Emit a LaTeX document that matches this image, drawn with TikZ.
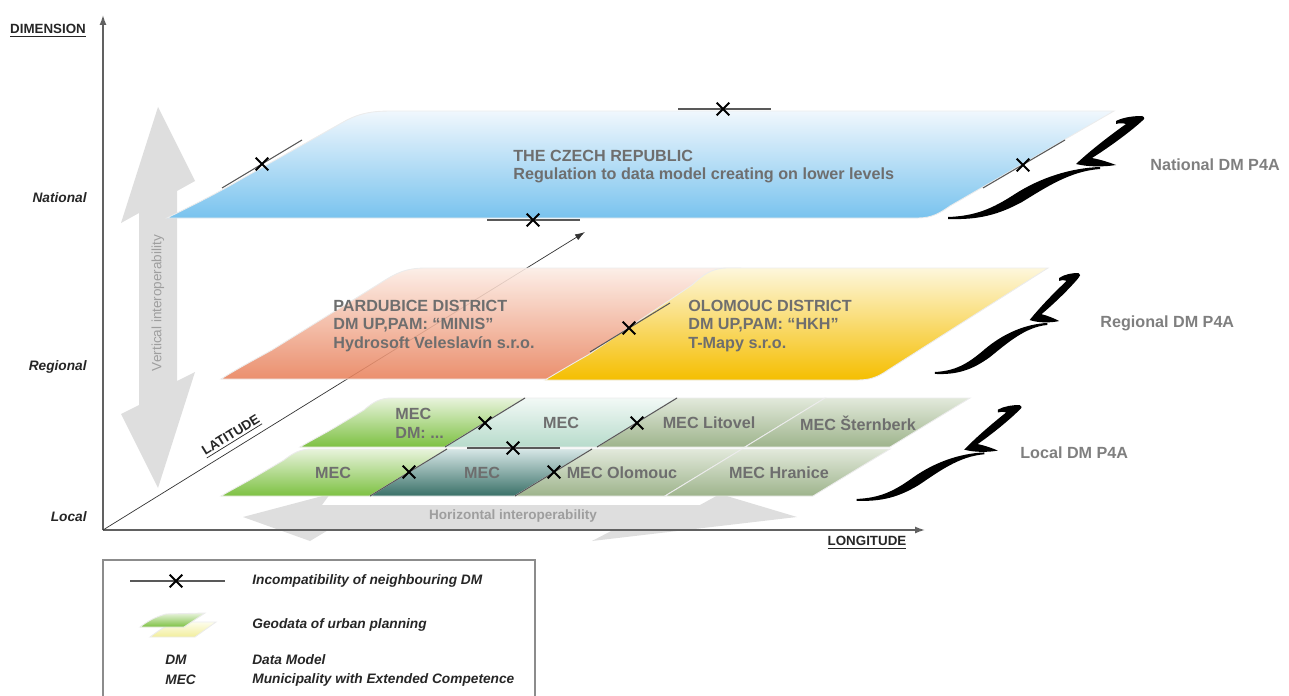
\documentclass[tikz,border=0pt]{standalone}
\usepackage{fontspec}
\setmainfont{Liberation Sans}
\usetikzlibrary{arrows.meta,shapes.misc}
\definecolor{txtgray}{HTML}{6E6E6E}
\definecolor{dmgray}{HTML}{7F7F7F}
\definecolor{arrowgray}{HTML}{DEDEDE}
\tikzset{
  axisline/.style={-{Latex[length=2mm,width=1.4mm]}, line width=0.8pt, draw=black!62},
  latline/.style={-{Latex[length=2mm,width=1.3mm]}, line width=0.4pt, draw=black!80},
  axislabel/.style={font=\fontsize{7.6}{9}\selectfont\bfseries, text=black!85, inner sep=1pt},
  levellabel/.style={font=\fontsize{7.8}{9}\selectfont\bfseries\itshape, text=black!85, anchor=east, inner sep=0pt},
  interarrow/.style={fill=arrowgray},
  intertext/.style={font=\fontsize{7.7}{9}\selectfont, text=black!38, inner sep=0pt},
  layerbase/.style={draw=white!85!gray, line width=0.5pt},
  natlayer/.style={layerbase, top color={rgb,255:red,240;green,247;blue,253}, bottom color={rgb,255:red,121;green,195;blue,238}},
  pardlayer/.style={layerbase, fill opacity=0.88, top color={rgb,255:red,252;green,236;blue,228}, bottom color={rgb,255:red,232;green,128;blue,90}},
  olomlayer/.style={layerbase, top color={rgb,255:red,253;green,247;blue,220}, bottom color={rgb,255:red,245;green,190;blue,0}},
  greenlayer/.style={layerbase, top color={rgb,255:red,232;green,243;blue,220}, bottom color={rgb,255:red,125;green,193;blue,66}},
  teallayer/.style={layerbase, top color={rgb,255:red,242;green,249;blue,246}, bottom color={rgb,255:red,183;green,219;blue,203}},
  darkteal/.style={layerbase, top color={rgb,255:red,214;green,230;blue,230}, bottom color={rgb,255:red,58;green,113;blue,104}},
  olivelayer/.style={layerbase, top color={rgb,255:red,226;green,233;blue,219}, bottom color={rgb,255:red,158;green,180;blue,140}},
  yellowlayer/.style={layerbase, top color={rgb,255:red,253;green,253;blue,236}, bottom color={rgb,255:red,242;green,238;blue,156}},
  incline/.style={draw=black!65, line width=0.6pt},
  incx/.style={draw=black, cross out, line width=1.2pt, minimum size=6pt, inner sep=0pt},
  laytext/.style={font=\fontsize{9.2}{10.6}\selectfont\bfseries, text=txtgray, align=left, inner sep=0pt},
  dmlabel/.style={font=\fontsize{9.2}{11}\selectfont\bfseries, text=dmgray, anchor=west, inner sep=0pt},
  legtext/.style={font=\fontsize{7.8}{9}\selectfont\bfseries\itshape, text=black!85, anchor=west, inner sep=0pt},
  zbrace/.pic={
    \fill[black] (-24,5) .. controls (-16,1) and (-6,0) .. (2,0)
      .. controls (5,1) and (5,3) .. (2,5)
      .. controls (-10,16) and (-32,32) .. (-48,42)
      .. controls (-38,44) and (-32,46) .. (-24,49)
      .. controls (-36,51) and (-52,51) .. (-64,48)
      .. controls (-48,33) and (-28,18) .. (-14,8)
      .. controls (-17,7) and (-21,7) .. (-24,8) -- cycle;
    \fill[black] (-40,51) .. controls (-70,52) and (-100,62) .. (-125,78)
      .. controls (-148,93) and (-165,100) .. (-192,101)
      -- (-192,103) .. controls (-162,104) and (-142,99) .. (-118,86)
      .. controls (-95,72) and (-70,55) .. (-40,53) -- cycle;
  }
}
\begin{document}
\begin{tikzpicture}[x=0.02cm, y=-0.02cm]
  \useasboundingbox (0,0) rectangle (1289,696);
  \coordinate (origin) at (103,530);
  \coordinate (dimtop) at (103,15);
  \coordinate (lontip) at (925,530);
  \coordinate (lattip) at (585,232);

  \path[interarrow] (158,107) -- (195,181) -- (177,191) -- (177,381) -- (195,372) -- (158,488)
    -- (121,414) -- (139,405) -- (139,213) -- (121,223) -- cycle;
  \node[intertext, rotate=90] (vertint) at (158,303) {Vertical interoperability};
  \path[interarrow] (243,517) -- (330,494) -- (322,505) -- (700,505) -- (720,494) -- (797,517)
    -- (592,541) -- (615,529) -- (330,529) -- (310,541) -- cycle;
  \node[intertext, font=\fontsize{7.7}{9}\selectfont\bfseries] (horint) at (513,516) {Horizontal interoperability};

  \draw[axisline] (origin) -- (dimtop);
  \draw[axisline] (origin) -- (lontip);
  \draw[latline] (origin) -- node[pos=0.28, sloped, above=2pt, axislabel] (latlabel) {\underline{LATITUDE}} (lattip);
  \node[axislabel] (dimlabel) at (48,31) {\underline{DIMENSION}};
  \node[axislabel] (lonlabel) at (867,543) {\underline{LONGITUDE}};
  \node[levellabel] (natlevel) at (87,198) {National};
  \node[levellabel] (reglevel) at (87,367) {Regional};
  \node[levellabel] (loclevel) at (87,517) {Local};

  \path[greenlayer] (300,447) .. controls (314,439) and (322,435) .. (334,428) -- (364,410)
    .. controls (373,402) and (380,398) .. (392,398) -- (525,398) -- (445,447) -- cycle;
  \path[teallayer] (445,447) -- (525,398) -- (677,398) -- (597,447) -- cycle;
  \path[olivelayer] (597,447) -- (677,398) -- (825,398) -- (745,447) -- cycle;
  \path[olivelayer] (745,447) -- (825,398) -- (970,398) -- (890,447) -- cycle;
  \path[greenlayer] (221,496) .. controls (235,488) and (243,484) .. (255,477) -- (284,460)
    .. controls (293,453) and (300,449) .. (312,449) -- (447,449) -- (370,496) -- cycle;
  \path[darkteal] (370,496) -- (447,449) -- (592,449) -- (515,496) -- cycle;
  \path[olivelayer] (515,496) -- (592,449) -- (742,449) -- (665,496) -- cycle;
  \path[olivelayer] (665,496) -- (742,449) -- (890,449) -- (813,496) -- cycle;

  \path[pardlayer] (221,379) .. controls (242,366) and (254,360) .. (272,350) -- (382,282)
    .. controls (396,273) and (406,268) .. (426,268) -- (740,268) -- (560,379) -- cycle;
  \path[olomlayer] (545,380) .. controls (562,370) and (572,364) .. (588,355) -- (692,285)
    .. controls (704,274) and (712,268) .. (728,268) -- (1048,268) -- (888,370)
    .. controls (878,377) and (870,380) .. (858,380) -- cycle;

  \path[natlayer] (167,218) .. controls (195,204) and (212,196) .. (238,181) -- (345,121)
    .. controls (360,113) and (372,111) .. (392,111) -- (1114,111) -- (950,206)
    .. controls (940,213) and (932,218) .. (918,218) -- cycle;

  \draw[incline] (678,109) -- (771,109);
  \node[incx] (xnattop) at (723,109) {};
  \draw[incline] (487,220) -- (580,220);
  \node[incx] (xnatbot) at (533,220) {};
  \draw[incline] (222,188) -- (302,140);
  \node[incx] (xnatleft) at (262,164) {};
  \draw[incline] (983,188) -- (1065,140);
  \node[incx] (xnatright) at (1023,165) {};
  \draw[incline] (590,352) -- (670,303);
  \node[incx] (xreg) at (629,328) {};
  \draw[incline] (445,447) -- (525,398);
  \node[incx] (xloca) at (485,423) {};
  \draw[incline] (597,447) -- (677,398);
  \node[incx] (xlocb) at (637,423) {};
  \draw[incline] (370,496) -- (447,449);
  \node[incx] (xlocc) at (409,472) {};
  \draw[incline] (515,496) -- (592,449);
  \node[incx] (xlocd) at (554,472) {};
  \draw[incline] (467,448) -- (560,448);
  \node[incx] (xloce) at (513,448) {};

  \node[laytext, anchor=west] (czech) at (513,166.5) {THE CZECH REPUBLIC\\Regulation to data model creating on lower levels};
  \node[laytext, anchor=west] (pardubice) at (333,326) {PARDUBICE DISTRICT\\DM UP,PAM: “MINIS”\\Hydrosoft Veleslavín s.r.o.};
  \node[laytext, anchor=west] (olomouc) at (688,326) {OLOMOUC DISTRICT\\DM UP,PAM: “HKH”\\T-Mapy s.r.o.};
  \node[laytext, anchor=west] (mecdm) at (395,423.5) {MEC\\DM: ...};
  \node[laytext] (mecb) at (561,423) {MEC};
  \node[laytext] (litovel) at (709,423) {MEC Litovel};
  \node[laytext] (sternberk) at (858,423) {MEC Šternberk};
  \node[laytext] (meca) at (333,473) {MEC};
  \node[laytext] (mecc) at (482,473) {MEC};
  \node[laytext] (olomoucmec) at (622,473) {MEC Olomouc};
  \node[laytext] (hranice) at (779,473) {MEC Hranice};

  \pic at (1140,116) {zbrace};
  \pic[xscale=0.74, yscale=0.98] at (1077,273) {zbrace};
  \pic[xscale=0.84, yscale=0.93] at (1018,405) {zbrace};
  \node[dmlabel] (natdm) at (1150,165) {National DM P4A};
  \node[dmlabel] (regdm) at (1100,323) {Regional DM P4A};
  \node[dmlabel] (locdm) at (1020,453) {Local DM P4A};

  \draw[draw=black!45, line width=0.6pt] (103,696) -- (103,560) -- (535,560) -- (535,696);
  \draw[incline] (130,581) -- (225,581);
  \node[incx] (legx) at (176,581) {};
  \path[yellowlayer] (150,637) .. controls (158,631) and (165,626) .. (176,622) -- (216,622) -- (195,637) -- cycle;
  \path[greenlayer] (140,627) .. controls (148,621) and (155,617) .. (166,614) -- (205,613) -- (184,627) -- cycle;
  \node[legtext] (legincomp) at (252,581) {Incompatibility of neighbouring DM};
  \node[legtext] (leggeo) at (252,625) {Geodata of urban planning};
  \node[legtext] (legdm) at (165,660) {DM};
  \node[legtext] (legdmtxt) at (252,660) {Data Model};
  \node[legtext] (legmec) at (165,680) {MEC};
  \node[legtext] (legmectxt) at (252,680) {Municipality with Extended Competence};
\end{tikzpicture}
\end{document}
